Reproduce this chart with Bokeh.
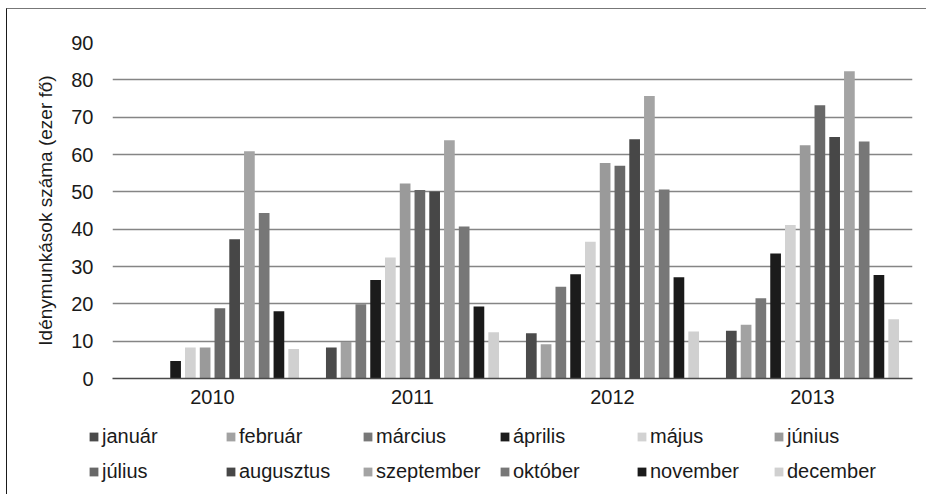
from bokeh.plotting import figure
from bokeh.layouts import column, row
from bokeh.models import FactorRange, Range1d, Legend, LegendItem, SingleIntervalTicker
from bokeh.transform import dodge
from bokeh.embed import file_html
from bokeh.resources import INLINE

years = ["2010", "2011", "2012", "2013"]
months = ["január", "február", "március", "április", "május", "június",
          "július", "augusztus", "szeptember", "október", "november", "december"]

januar = [0, 8.3, 12.1, 12.8]
februar = [0, 9.8, 9.2, 14.4]
marcius = [0, 19.9, 24.6, 21.5]
aprilis = [4.7, 26.4, 27.9, 33.5]
majus = [8.3, 32.4, 36.6, 41.1]
junius = [8.3, 52.2, 57.7, 62.5]
julius = [18.8, 50.5, 57.0, 73.2]
augusztus = [37.3, 50.1, 64.1, 64.7]
szeptember = [60.9, 63.8, 75.7, 82.3]
oktober = [44.3, 40.7, 50.6, 63.5]
november = [18.0, 19.3, 27.1, 27.7]
december = [7.9, 12.4, 12.6, 15.9]

series = [januar, februar, marcius, aprilis, majus, junius,
          julius, augusztus, szeptember, oktober, november, december]
colors = ["#4b4b4b", "#a2a2a2", "#787878", "#1b1b1b", "#d2d2d2", "#9a9a9a",
          "#686868", "#474747", "#a4a4a4", "#777777", "#1a1a1a", "#d0d0d0"]

FONT = "Liberation Sans"
FS = "20px"

p = figure(x_range=FactorRange(*years), y_range=Range1d(0, 90),
           width=919, height=409, output_backend="svg", toolbar_location=None,
           min_border_left=105, min_border_right=14, min_border_top=33,
           min_border_bottom=40)
p.outline_line_color = None

pitch = 0.0738
bar_w = 0.0535
for i, (vals, c) in enumerate(zip(series, colors)):
    src = {"year": years, "val": vals}
    p.vbar(x=dodge("year", (i - 5.5) * pitch, range=p.x_range), top="val",
           width=bar_w, source=src, fill_color=c, line_color=None)

# axes
p.yaxis.ticker = SingleIntervalTicker(interval=10)
p.yaxis.axis_line_color = None
p.yaxis.major_tick_line_color = None
p.yaxis.minor_tick_line_color = None
p.yaxis.major_tick_out = 0
p.yaxis.major_label_standoff = 15
p.yaxis.major_label_text_font = FONT
p.yaxis.major_label_text_font_size = FS
p.yaxis.major_label_text_color = "#1a1a1a"
p.yaxis.axis_label = "Idénymunkások száma (ezer fő)"
p.yaxis.axis_label_text_font = FONT
p.yaxis.axis_label_text_font_size = "19px"
p.yaxis.axis_label_text_font_style = "normal"
p.yaxis.axis_label_text_color = "#1a1a1a"
p.yaxis.axis_label_standoff = 12

p.xaxis.axis_line_color = "#4a4a4a"
p.xaxis.axis_line_width = 1.5
p.xaxis.major_tick_line_color = None
p.xaxis.minor_tick_line_color = None
p.xaxis.major_tick_out = 0
p.xaxis.major_label_standoff = 11
p.xaxis.major_label_text_font = FONT
p.xaxis.major_label_text_font_size = FS
p.xaxis.major_label_text_color = "#1a1a1a"

p.xgrid.grid_line_color = None
p.ygrid.grid_line_color = "#858585"
p.ygrid.grid_line_width = 1.5

# legend in its own strip below the chart (same series, drawn out of view)
lf = figure(width=919, height=76, output_backend="svg", toolbar_location=None,
            x_range=FactorRange(*years), y_range=Range1d(500, 501),
            min_border=0, min_border_left=0, min_border_right=0,
            min_border_top=0, min_border_bottom=0)
lf.axis.visible = False
lf.grid.visible = False
lf.outline_line_color = None
items = []
for m, vals, c in zip(months, series, colors):
    r = lf.vbar(x=years, top=vals, width=0.05, fill_color=c, line_color=None)
    items.append(LegendItem(label=m, renderers=[r]))

legend = Legend(items=items, orientation="horizontal", ncols=6,
                location=(81, 11), label_text_font=FONT,
                label_text_font_size=FS, label_text_color="#1a1a1a",
                glyph_width=11, glyph_height=11, label_standoff=3,
                label_width=112, label_height=24, spacing=11,
                padding=0, margin=0, border_line_color=None,
                background_fill_alpha=0)
lf.add_layout(legend, "center")

layout = column(row(p), lf, spacing=0,
                styles={"margin-left": "6px", "margin-top": "8px",
                        "border-left": "1.5px solid #1a1a1a",
                        "border-top": "1.5px solid #777777"})

open("out.html", "w").write(file_html(layout, INLINE))
